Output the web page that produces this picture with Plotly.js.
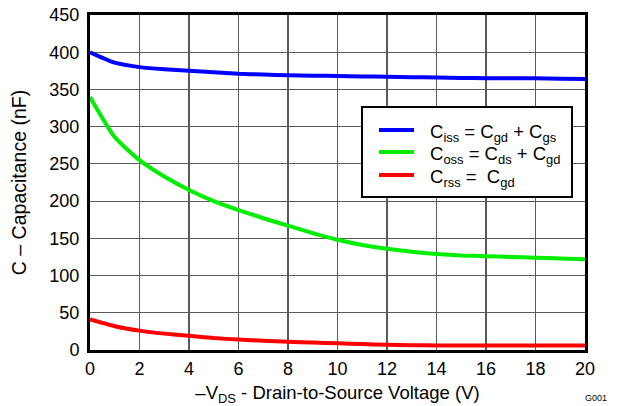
<!DOCTYPE html>
<html>
<head>
<meta charset="utf-8">
<script src="https://cdn.plot.ly/plotly-3.0.1.min.js"></script>
<style>html,body{margin:0;padding:0;background:#fff;}#chart{width:618px;height:406px;}</style>
</head>
<body>
<div id="chart"></div>
<script>
const vds = [0, 1, 2, 3, 4, 5, 6, 7, 8, 9, 10, 11, 12, 13, 14, 15, 16, 17, 18, 19, 20];
const ciss = [400, 386, 380, 377, 375, 373, 371, 370, 369, 368.5, 368, 367.5, 367, 366.5, 366, 365.5, 365, 365, 365, 364.5, 364];
const coss = [340, 286, 255, 233, 215, 200, 188, 177, 167, 157, 148, 141, 136, 132, 129, 127, 126, 125, 124, 123, 122];
const crss = [41, 32, 26, 22, 19, 16, 14, 12.5, 11, 10, 9, 8, 7, 6.5, 6, 6, 6, 6, 6, 6, 6];
const names = ['C<sub>iss</sub> = C<sub>gd</sub> + C<sub>gs</sub>',
               'C<sub>oss</sub> = C<sub>ds</sub> + C<sub>gd</sub>',
               'C<sub>rss</sub> =  C<sub>gd</sub>'];
const colors = ['#0000ff', '#00ee00', '#ff0000'];
const series = [ciss, coss, crss];
const xTicks = [0, 2, 4, 6, 8, 10, 12, 14, 16, 18, 20];
const yTicks = [0, 50, 100, 150, 200, 250, 300, 350, 400, 450];

const traces = series.map((s, i) => ({
  x: vds, y: s, type: 'scatter', mode: 'lines', name: names[i],
  line: {color: colors[i], width: 4, shape: 'spline', smoothing: 0.6}
}));

// plot area in pixels: x 90..585, y 15..350
const L = 90, R = 585, T = 15, B = 350;
const px = v => (v - L) / (R - L);
const py = v => (B - v) / (B - T);

const FF = 'Liberation Sans, Arial, Helvetica, sans-serif';
const font = {family: FF, size: 18, color: '#000'};

const shapes = [{type: 'rect', xref: 'paper', yref: 'paper',
  x0: px(362), x1: px(572), y0: py(197), y1: py(107),
  line: {color: '#000', width: 2}, fillcolor: '#fff', layer: 'above'}];
const annotations = [];
const rowY = [130, 152, 175];
names.forEach((n, i) => {
  shapes.push({type: 'line', xref: 'paper', yref: 'paper',
    x0: px(379), x1: px(414), y0: py(rowY[i]), y1: py(rowY[i]),
    line: {color: colors[i], width: 4}, layer: 'above'});
  annotations.push({text: n, xref: 'paper', yref: 'paper', x: px(428), y: py(rowY[i] + 3),
    xanchor: 'left', yanchor: 'middle', showarrow: false,
    font: {family: FF, size: 18.5, color: '#000'}});
});
annotations.push({text: 'G001', xref: 'paper', yref: 'paper', x: px(596), y: py(398),
  xanchor: 'center', yanchor: 'middle', showarrow: false,
  font: {family: FF, size: 9, color: '#000'}});

const layout = {
  width: 618, height: 406,
  margin: {l: L, r: 618 - R, t: T, b: 406 - B},
  paper_bgcolor: '#fff', plot_bgcolor: '#fff',
  font: font,
  showlegend: false,
  xaxis: {range: [0, 20], tickvals: xTicks, ticks: '', showgrid: true,
    gridcolor: '#5a5a5a', gridwidth: 1.2, zeroline: false,
    showline: true, linecolor: '#000', linewidth: 3, mirror: true,
    tickfont: font, automargin: false,
    title: {text: '\u2013V<sub>DS</sub> - Drain-to-Source Voltage (V)', font: {family: FF, size: 18.5, color: '#000'}, standoff: 12}},
  yaxis: {range: [0, 450], tickvals: yTicks, ticks: '', showgrid: true,
    gridcolor: '#5a5a5a', gridwidth: 1.2, zeroline: false,
    showline: true, linecolor: '#000', linewidth: 3, mirror: true,
    tickfont: font, automargin: false, ticklabelstandoff: 4,
    title: {text: 'C \u2013 Capacitance (nF)', font: {family: FF, size: 19.5, color: '#000'}, standoff: 18}},
  shapes: shapes,
  annotations: annotations
};
Plotly.newPlot('chart', traces, layout, {displayModeBar: false, staticPlot: true});
</script>
</body>
</html>
